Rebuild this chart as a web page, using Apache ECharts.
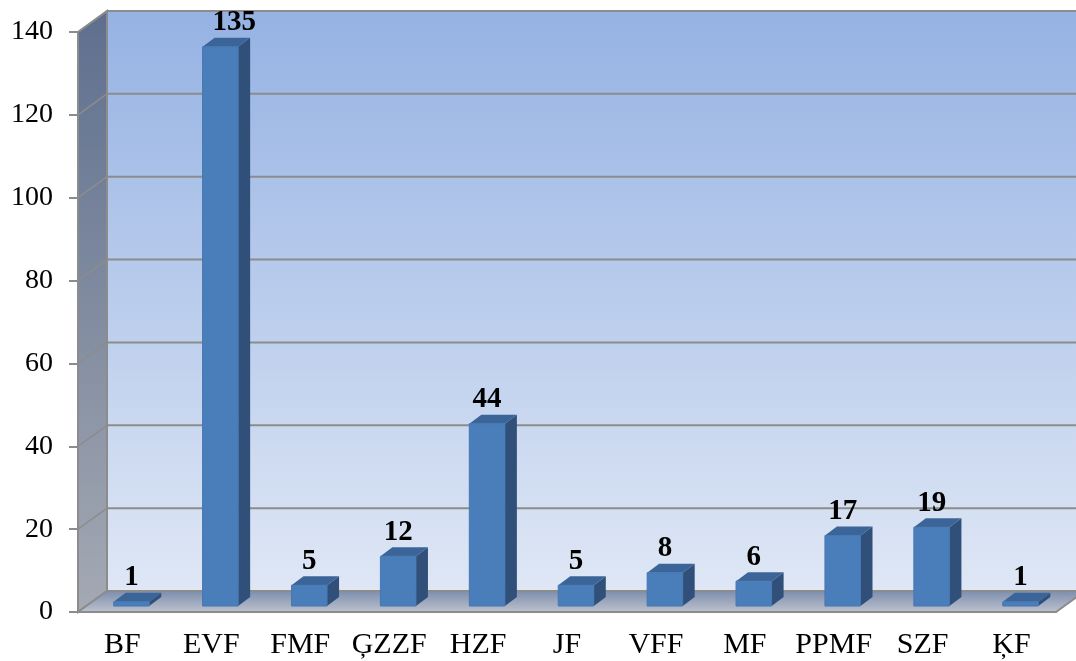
<!DOCTYPE html>
<html>
<head>
<meta charset="utf-8">
<script src="https://cdn.jsdelivr.net/npm/echarts@6/dist/echarts.min.js"></script>
<style>
  html, body { margin: 0; padding: 0; background: #fff; }
  #main { width: 1076px; height: 661px; }
</style>
</head>
<body>
<div id="main"></div>
<script>
var categories = ['BF', 'EVF', 'FMF', 'ĢZZF', 'HZF', 'JF', 'VFF', 'MF', 'PPMF', 'SZF', 'ĶF'];
var values = [1, 135, 5, 12, 44, 5, 8, 6, 17, 19, 1];
var yTicks = [0, 20, 40, 60, 80, 100, 120, 140];

// 3d look: depth of the walls and of the bars
var WALL_DX = 29, WALL_DY = -21;
var BAR_DX = 9, BAR_DY = -6;     // bar front face sits a bit into the floor
var SIDE_DX = 12, SIDE_DY = -9;  // bar depth
var BAR_RATIO = 0.4;

var chart = echarts.init(document.getElementById('main'));

function renderWalls(params, api) {
  var cs = params.coordSys;
  var L = cs.x, R = cs.x + cs.width;
  var y0 = api.coord([0, 0])[1];
  var yTop = api.coord([0, yTicks[yTicks.length - 1]])[1];
  var kids = [];
  // back wall
  kids.push({
    type: 'polygon',
    shape: { points: [[L + WALL_DX, yTop + WALL_DY], [R + WALL_DX + 40, yTop + WALL_DY],
                      [R + WALL_DX + 40, y0 + WALL_DY], [L + WALL_DX, y0 + WALL_DY]] },
    style: { fill: { type: 'linear', x: 0, y: 0, x2: 0, y2: 1,
      colorStops: [{ offset: 0, color: '#95b2e3' }, { offset: 1, color: '#dfe7f5' }] },
      stroke: '#8c8c8c', lineWidth: 2 }
  });
  // left side wall
  kids.push({
    type: 'polygon',
    shape: { points: [[L, yTop], [L + WALL_DX, yTop + WALL_DY], [L + WALL_DX, y0 + WALL_DY], [L, y0]] },
    style: { fill: { type: 'linear', x: 0, y: 0, x2: 0, y2: 1,
      colorStops: [{ offset: 0, color: '#5e6f8e' }, { offset: 1, color: '#a4a9b3' }] },
      stroke: '#8c8c8c', lineWidth: 2 }
  });
  // floor
  kids.push({
    type: 'polygon',
    shape: { points: [[L, y0], [R, y0], [R + WALL_DX, y0 + WALL_DY], [L + WALL_DX, y0 + WALL_DY]] },
    style: { fill: { type: 'linear', x: 0, y: 0, x2: 0, y2: 1,
      colorStops: [{ offset: 0, color: '#7a8bab' }, { offset: 1, color: '#bfc4cf' }] },
      stroke: '#8c8c8c', lineWidth: 2 }
  });
  // grid lines on the back wall and the side wall
  yTicks.forEach(function (t) {
    if (t === 0) return;
    var y = api.coord([0, t])[1];
    kids.push({ type: 'line', shape: { x1: L + WALL_DX, y1: y + WALL_DY, x2: R + WALL_DX + 40, y2: y + WALL_DY },
      style: { stroke: '#8c8c8c', lineWidth: 2 } });
    kids.push({ type: 'line', shape: { x1: L, y1: y, x2: L + WALL_DX, y2: y + WALL_DY },
      style: { stroke: '#8c8c8c', lineWidth: 1.5 } });
  });
  return { type: 'group', children: kids };
}

function renderBar(params, api) {
  var i = api.value(0), v = api.value(1);
  var base = api.coord([i, 0]);
  var top = api.coord([i, v]);
  var w = api.size([1, 0])[0] * BAR_RATIO;
  var x0 = base[0] - w / 2 + BAR_DX, x1 = x0 + w;
  var yb = base[1] + BAR_DY, yt = top[1] + BAR_DY;
  return {
    type: 'group',
    children: [
      { type: 'polygon',
        shape: { points: [[x1, yb], [x1 + SIDE_DX, yb + SIDE_DY], [x1 + SIDE_DX, yt + SIDE_DY], [x1, yt]] },
        style: { fill: '#30507a' } },
      { type: 'polygon',
        shape: { points: [[x0, yt], [x1, yt], [x1 + SIDE_DX, yt + SIDE_DY], [x0 + SIDE_DX, yt + SIDE_DY]] },
        style: { fill: '#3b6598' } },
      { type: 'rect',
        shape: { x: x0, y: yt, width: w, height: yb - yt },
        style: { fill: '#4a7ebb', stroke: '#4677b2', lineWidth: 1 } },
      { type: 'text',
        style: { text: String(v), x: (x0 + x1) / 2 + (yt < 60 ? 14 : 0), y: yt + SIDE_DY - 15,
          align: 'center', verticalAlign: 'middle',
          font: 'bold 29px "Liberation Serif"', fill: '#000' } }
    ]
  };
}

var option = {
  animation: false,
  grid: { left: 78, right: 20, top: 32, bottom: 49 },
  xAxis: {
    type: 'category',
    data: categories,
    axisLine: { lineStyle: { color: '#8c8c8c', width: 2 } },
    axisTick: { length: 6, lineStyle: { color: '#8c8c8c', width: 2 } },
    axisLabel: { interval: 0, hideOverlap: false, color: '#000', fontSize: 30,
      fontFamily: 'Liberation Serif', margin: 18 }
  },
  yAxis: {
    type: 'value',
    min: 0, max: 140, interval: 20,
    splitLine: { show: false },
    axisLine: { show: true, lineStyle: { color: '#8c8c8c', width: 2 } },
    axisTick: { show: true, length: 9, lineStyle: { color: '#8c8c8c', width: 2 } },
    axisLabel: { color: '#000', fontSize: 28, fontFamily: 'Liberation Serif', margin: 25 }
  },
  series: [
    { type: 'custom', name: 'walls', data: [[0, 0]], renderItem: renderWalls, silent: true, z: 1 },
    { type: 'custom', name: 'count', data: values.map(function (v, i) { return [i, v]; }),
      renderItem: renderBar, encode: { x: 0, y: 1 }, z: 2 }
  ]
};
chart.setOption(option);
</script>
</body>
</html>
